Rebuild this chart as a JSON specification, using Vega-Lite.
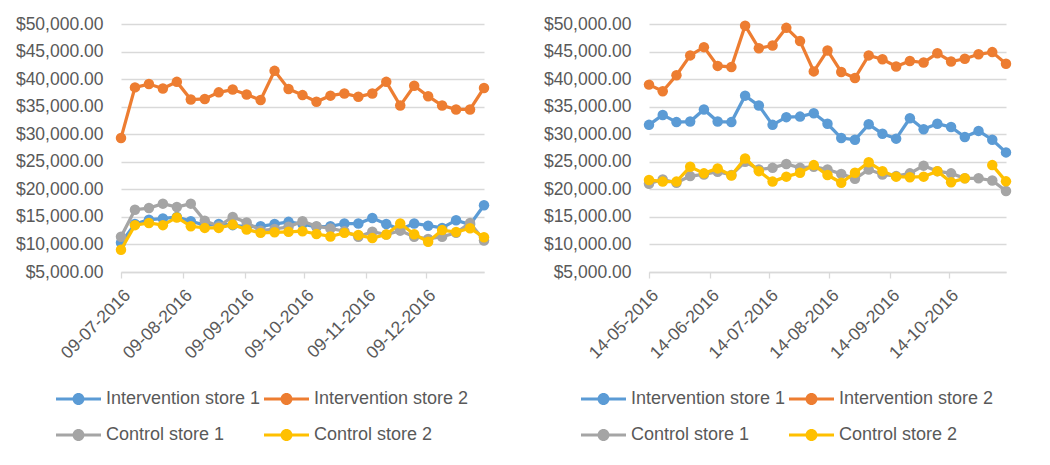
{
  "$schema": "https://vega.github.io/schema/vega-lite/v6.json",
  "background": "white",
  "padding": {"left": 15, "top": 15, "right": 10, "bottom": 5},
  "spacing": 52,
  "config": {
    "font": "Liberation Sans",
    "view": {"stroke": null},
    "axis": {
      "labelFont": "Liberation Sans",
      "labelFontSize": 17.5,
      "labelColor": "#595959",
      "domainColor": "#d9d9d9",
      "tickColor": "#d9d9d9",
      "gridColor": "#d9d9d9",
      "gridWidth": 1.3,
      "labelOverlap": false,
      "title": null
    },
    "legend": {
      "orient": "none",
      "direction": "horizontal",
      "columns": 2,
      "title": null,
      "padding": 0,
      "labelFont": "Liberation Sans",
      "labelFontSize": 18,
      "labelColor": "#595959",
      "labelLimit": 400,
      "labelOffset": 30,
      "rowPadding": 17,
      "columnPadding": 3,
      "symbolSize": 400,
      "symbolStrokeWidth": 0,
      "symbolType": "M-1,-0.15H3.5V0.15H-1Z M1.85,0A0.6,0.6 0 1,1 0.65,0A0.6,0.6 0 1,1 1.85,0Z"
    }
  },
  "resolve": {"legend": {"color": "independent"}},
  "datasets": {
    "left": [
      {"date": "2016-07-09", "Intervention store 1": 10300, "Intervention store 2": 29300, "Control store 1": 11400, "Control store 2": 9050},
      {"date": "2016-07-16", "Intervention store 1": 13700, "Intervention store 2": 38500, "Control store 1": 16300, "Control store 2": 13500},
      {"date": "2016-07-23", "Intervention store 1": 14500, "Intervention store 2": 39100, "Control store 1": 16600, "Control store 2": 13900},
      {"date": "2016-07-30", "Intervention store 1": 14700, "Intervention store 2": 38300, "Control store 1": 17400, "Control store 2": 13500},
      {"date": "2016-08-06", "Intervention store 1": 15000, "Intervention store 2": 39500, "Control store 1": 16800, "Control store 2": 14900},
      {"date": "2016-08-13", "Intervention store 1": 14200, "Intervention store 2": 36300, "Control store 1": 17400, "Control store 2": 13300},
      {"date": "2016-08-20", "Intervention store 1": 13500, "Intervention store 2": 36400, "Control store 1": 14300, "Control store 2": 13000},
      {"date": "2016-08-27", "Intervention store 1": 13700, "Intervention store 2": 37600, "Control store 1": 13300, "Control store 2": 13000},
      {"date": "2016-09-03", "Intervention store 1": 13500, "Intervention store 2": 38100, "Control store 1": 15000, "Control store 2": 13600},
      {"date": "2016-09-10", "Intervention store 1": 13200, "Intervention store 2": 37200, "Control store 1": 14000, "Control store 2": 12700},
      {"date": "2016-09-17", "Intervention store 1": 13300, "Intervention store 2": 36200, "Control store 1": 12500, "Control store 2": 12100},
      {"date": "2016-09-24", "Intervention store 1": 13700, "Intervention store 2": 41500, "Control store 1": 12800, "Control store 2": 12200},
      {"date": "2016-10-01", "Intervention store 1": 14100, "Intervention store 2": 38200, "Control store 1": 13200, "Control store 2": 12300},
      {"date": "2016-10-08", "Intervention store 1": 13700, "Intervention store 2": 37100, "Control store 1": 14200, "Control store 2": 12400},
      {"date": "2016-10-15", "Intervention store 1": 13200, "Intervention store 2": 35900, "Control store 1": 13300, "Control store 2": 11900},
      {"date": "2016-10-22", "Intervention store 1": 13300, "Intervention store 2": 37000, "Control store 1": 12900, "Control store 2": 11450},
      {"date": "2016-10-29", "Intervention store 1": 13800, "Intervention store 2": 37400, "Control store 1": 12400, "Control store 2": 12100},
      {"date": "2016-11-05", "Intervention store 1": 13800, "Intervention store 2": 36800, "Control store 1": 11400, "Control store 2": 11700},
      {"date": "2016-11-12", "Intervention store 1": 14800, "Intervention store 2": 37400, "Control store 1": 12300, "Control store 2": 11150},
      {"date": "2016-11-19", "Intervention store 1": 13700, "Intervention store 2": 39500, "Control store 1": 11800, "Control store 2": 11800},
      {"date": "2016-11-26", "Intervention store 1": 12700, "Intervention store 2": 35200, "Control store 1": 12500, "Control store 2": 13800},
      {"date": "2016-12-03", "Intervention store 1": 13800, "Intervention store 2": 38800, "Control store 1": 11400, "Control store 2": 11850},
      {"date": "2016-12-10", "Intervention store 1": 13400, "Intervention store 2": 36900, "Control store 1": 11000, "Control store 2": 10500},
      {"date": "2016-12-17", "Intervention store 1": 13000, "Intervention store 2": 35200, "Control store 1": 11400, "Control store 2": 12600},
      {"date": "2016-12-24", "Intervention store 1": 14400, "Intervention store 2": 34500, "Control store 1": 12100, "Control store 2": 12250},
      {"date": "2016-12-31", "Intervention store 1": 13600, "Intervention store 2": 34500, "Control store 1": 13900, "Control store 2": 12950},
      {"date": "2017-01-07", "Intervention store 1": 17100, "Intervention store 2": 38400, "Control store 1": 10700, "Control store 2": 11300}
    ],
    "right": [
      {"date": "2016-05-14", "Intervention store 1": 31700, "Intervention store 2": 39000, "Control store 1": 21000, "Control store 2": 21700},
      {"date": "2016-05-21", "Intervention store 1": 33500, "Intervention store 2": 37800, "Control store 1": 21800, "Control store 2": 21400},
      {"date": "2016-05-28", "Intervention store 1": 32200, "Intervention store 2": 40700, "Control store 1": 21200, "Control store 2": 21400},
      {"date": "2016-06-04", "Intervention store 1": 32300, "Intervention store 2": 44300, "Control store 1": 22400, "Control store 2": 24100},
      {"date": "2016-06-11", "Intervention store 1": 34500, "Intervention store 2": 45800, "Control store 1": 22700, "Control store 2": 22900},
      {"date": "2016-06-18", "Intervention store 1": 32300, "Intervention store 2": 42400, "Control store 1": 23200, "Control store 2": 23800},
      {"date": "2016-06-25", "Intervention store 1": 32200, "Intervention store 2": 42200, "Control store 1": 22600, "Control store 2": 22500},
      {"date": "2016-07-02", "Intervention store 1": 37000, "Intervention store 2": 49700, "Control store 1": 25000, "Control store 2": 25600},
      {"date": "2016-07-09", "Intervention store 1": 35200, "Intervention store 2": 45600, "Control store 1": 23600, "Control store 2": 23300},
      {"date": "2016-07-16", "Intervention store 1": 31700, "Intervention store 2": 46100, "Control store 1": 23900, "Control store 2": 21400},
      {"date": "2016-07-23", "Intervention store 1": 33100, "Intervention store 2": 49300, "Control store 1": 24600, "Control store 2": 22300},
      {"date": "2016-07-30", "Intervention store 1": 33200, "Intervention store 2": 46900, "Control store 1": 23900, "Control store 2": 23000},
      {"date": "2016-08-06", "Intervention store 1": 33800, "Intervention store 2": 41400, "Control store 1": 24100, "Control store 2": 24400},
      {"date": "2016-08-13", "Intervention store 1": 31900, "Intervention store 2": 45200, "Control store 1": 23600, "Control store 2": 22600},
      {"date": "2016-08-20", "Intervention store 1": 29300, "Intervention store 2": 41300, "Control store 1": 22800, "Control store 2": 21200},
      {"date": "2016-08-27", "Intervention store 1": 29000, "Intervention store 2": 40200, "Control store 1": 21900, "Control store 2": 23000},
      {"date": "2016-09-03", "Intervention store 1": 31800, "Intervention store 2": 44300, "Control store 1": 23600, "Control store 2": 24900},
      {"date": "2016-09-10", "Intervention store 1": 30100, "Intervention store 2": 43600, "Control store 1": 22700, "Control store 2": 23300},
      {"date": "2016-09-17", "Intervention store 1": 29200, "Intervention store 2": 42300, "Control store 1": 22400, "Control store 2": 22300},
      {"date": "2016-09-24", "Intervention store 1": 32900, "Intervention store 2": 43300, "Control store 1": 22900, "Control store 2": 22200},
      {"date": "2016-10-01", "Intervention store 1": 30900, "Intervention store 2": 43000, "Control store 1": 24300, "Control store 2": 22300},
      {"date": "2016-10-08", "Intervention store 1": 31900, "Intervention store 2": 44700, "Control store 1": 23300, "Control store 2": 23300},
      {"date": "2016-10-15", "Intervention store 1": 31300, "Intervention store 2": 43200, "Control store 1": 22900, "Control store 2": 21300},
      {"date": "2016-10-22", "Intervention store 1": 29500, "Intervention store 2": 43700, "Control store 1": 22000, "Control store 2": 22000},
      {"date": "2016-10-29", "Intervention store 1": 30600, "Intervention store 2": 44500, "Control store 1": 22000, "Control store 2": null},
      {"date": "2016-11-05", "Intervention store 1": 29000, "Intervention store 2": 44900, "Control store 1": 21600, "Control store 2": 24400},
      {"date": "2016-11-12", "Intervention store 1": 26700, "Intervention store 2": 42800, "Control store 1": 19700, "Control store 2": 21450}
    ]
  },
  "hconcat": [
    {
      "width": 363,
      "height": 248,
      "data": {"name": "left"},
      "transform": [{"fold": ["Intervention store 1", "Intervention store 2", "Control store 1", "Control store 2"], "as": ["series", "sales"]}],
      "encoding": {
        "x": {
          "field": "date", "type": "temporal",
          "scale": {"type": "utc", "domain": [{"year": 2016, "month": 7, "date": 9, "utc": true}, {"year": 2017, "month": 1, "date": 7, "utc": true}]},
          "axis": {
            "values": [
              {"year": 2016, "month": 7, "date": 9, "utc": true},
              {"year": 2016, "month": 8, "date": 9, "utc": true},
              {"year": 2016, "month": 9, "date": 9, "utc": true},
              {"year": 2016, "month": 10, "date": 9, "utc": true},
              {"year": 2016, "month": 11, "date": 9, "utc": true},
              {"year": 2016, "month": 12, "date": 9, "utc": true}
            ],
            "format": "%d-%m-%Y", "labelAngle": -45, "grid": false, "domainWidth": 1.3, "tickSize": 6, "tickWidth": 1.3, "labelPadding": 8
          }
        },
        "y": {
          "field": "sales", "type": "quantitative",
          "scale": {"domain": [5000, 50000]},
          "axis": {"values": [5000, 10000, 15000, 20000, 25000, 30000, 35000, 40000, 45000, 50000], "format": "$,.2f", "domain": false, "ticks": false, "labelPadding": 18}
        },
        "color": {
          "field": "series", "type": "nominal",
          "scale": {"domain": ["Intervention store 1", "Intervention store 2", "Control store 1", "Control store 2"], "range": ["#5B9BD5", "#ED7D31", "#A5A5A5", "#FFC000"]},
          "legend": {
            "legendX": -65, "legendY": 365,
            "encode": {"symbols": {"update": {"fill": {"scale": "color", "field": "value"}, "stroke": {"scale": "color", "field": "value"}, "strokeWidth": {"value": 0}}}}
          }
        }
      },
      "layer": [
        {"transform": [{"filter": "datum.series === 'Intervention store 1'"}], "mark": {"type": "line", "strokeWidth": 3.25, "invalid": "break-paths-show-domains", "point": {"filled": true, "size": 110, "opacity": 1}}},
        {"transform": [{"filter": "datum.series === 'Intervention store 2'"}], "mark": {"type": "line", "strokeWidth": 3.25, "invalid": "break-paths-show-domains", "point": {"filled": true, "size": 110, "opacity": 1}}},
        {"transform": [{"filter": "datum.series === 'Control store 1'"}], "mark": {"type": "line", "strokeWidth": 3.25, "invalid": "break-paths-show-domains", "point": {"filled": true, "size": 110, "opacity": 1}}},
        {"transform": [{"filter": "datum.series === 'Control store 2'"}], "mark": {"type": "line", "strokeWidth": 3.25, "invalid": "break-paths-show-domains", "point": {"filled": true, "size": 110, "opacity": 1}}}
      ]
    },
    {
      "width": 357,
      "height": 248,
      "data": {"name": "right"},
      "transform": [{"fold": ["Intervention store 1", "Intervention store 2", "Control store 1", "Control store 2"], "as": ["series", "sales"]}],
      "encoding": {
        "x": {
          "field": "date", "type": "temporal",
          "scale": {"type": "utc", "domain": [{"year": 2016, "month": 5, "date": 14, "utc": true}, {"year": 2016, "month": 11, "date": 12, "utc": true}]},
          "axis": {
            "values": [
              {"year": 2016, "month": 5, "date": 14, "utc": true},
              {"year": 2016, "month": 6, "date": 14, "utc": true},
              {"year": 2016, "month": 7, "date": 14, "utc": true},
              {"year": 2016, "month": 8, "date": 14, "utc": true},
              {"year": 2016, "month": 9, "date": 14, "utc": true},
              {"year": 2016, "month": 10, "date": 14, "utc": true}
            ],
            "format": "%d-%m-%Y", "labelAngle": -45, "grid": false, "domainWidth": 1.3, "tickSize": 6, "tickWidth": 1.3, "labelPadding": 8
          }
        },
        "y": {
          "field": "sales", "type": "quantitative",
          "scale": {"domain": [5000, 50000]},
          "axis": {"values": [5000, 10000, 15000, 20000, 25000, 30000, 35000, 40000, 45000, 50000], "format": "$,.2f", "domain": false, "ticks": false, "labelPadding": 18}
        },
        "color": {
          "field": "series", "type": "nominal",
          "scale": {"domain": ["Intervention store 1", "Intervention store 2", "Control store 1", "Control store 2"], "range": ["#5B9BD5", "#ED7D31", "#A5A5A5", "#FFC000"]},
          "legend": {
            "legendX": -68, "legendY": 365,
            "encode": {"symbols": {"update": {"fill": {"scale": "color", "field": "value"}, "stroke": {"scale": "color", "field": "value"}, "strokeWidth": {"value": 0}}}}
          }
        }
      },
      "layer": [
        {"transform": [{"filter": "datum.series === 'Intervention store 1'"}], "mark": {"type": "line", "strokeWidth": 3.25, "invalid": "break-paths-show-domains", "point": {"filled": true, "size": 110, "opacity": 1}}},
        {"transform": [{"filter": "datum.series === 'Intervention store 2'"}], "mark": {"type": "line", "strokeWidth": 3.25, "invalid": "break-paths-show-domains", "point": {"filled": true, "size": 110, "opacity": 1}}},
        {"transform": [{"filter": "datum.series === 'Control store 1'"}], "mark": {"type": "line", "strokeWidth": 3.25, "invalid": "break-paths-show-domains", "point": {"filled": true, "size": 110, "opacity": 1}}},
        {"transform": [{"filter": "datum.series === 'Control store 2'"}], "mark": {"type": "line", "strokeWidth": 3.25, "invalid": "break-paths-show-domains", "point": {"filled": true, "size": 110, "opacity": 1}}}
      ]
    }
  ]
}
